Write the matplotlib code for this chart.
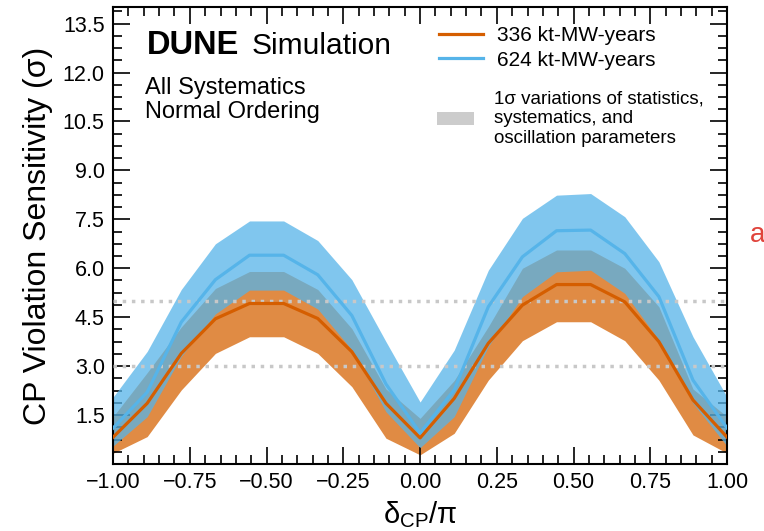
import matplotlib
matplotlib.use("Agg")
import matplotlib.pyplot as plt
import numpy as np
from matplotlib.lines import Line2D
from matplotlib.patches import Patch
from matplotlib.ticker import MultipleLocator

plt.rcParams['font.family'] = ['Liberation Sans', 'DejaVu Sans']
plt.rcParams['mathtext.fontset'] = 'custom'
plt.rcParams['mathtext.rm'] = 'Liberation Sans'
plt.rcParams['mathtext.it'] = 'Liberation Sans'

# delta_CP / pi grid (19 points)
dcp = np.linspace(-1, 1, 19)

# 336 kt-MW-years (orange)
or_mid = [0.82, 1.86, 3.39, 4.45, 4.92, 4.92, 4.46, 3.44, 1.86, 0.80,
          2.01, 3.70, 4.87, 5.50, 5.50, 4.97, 3.75, 1.96, 0.82]
or_lo = [0.33, 0.84, 2.27, 3.39, 3.90, 3.90, 3.39, 2.37, 0.79, 0.28,
         0.94, 2.57, 3.78, 4.36, 4.36, 3.78, 2.57, 0.89, 0.33]
or_hi = [1.45, 2.80, 4.20, 5.38, 5.90, 5.90, 5.35, 4.15, 2.30, 1.40,
         2.56, 4.21, 6.00, 6.56, 6.56, 6.00, 4.82, 2.30, 1.45]

# 624 kt-MW-years (blue)
bl_mid = [1.10, 2.20, 4.35, 5.65, 6.40, 6.40, 5.80, 4.55, 2.45, 0.95,
          2.27, 4.82, 6.35, 7.15, 7.17, 6.45, 5.13, 2.57, 1.10]
bl_lo = [0.55, 1.45, 3.30, 4.60, 5.33, 5.33, 4.75, 3.50, 1.60, 0.50,
         1.45, 3.60, 5.13, 5.89, 5.94, 5.23, 3.80, 1.86, 0.55]
bl_hi = [2.05, 3.45, 5.35, 6.75, 7.45, 7.45, 6.85, 5.65, 3.75, 1.90,
         3.49, 5.94, 7.53, 8.24, 8.29, 7.58, 6.20, 3.90, 2.05]

ref_levels = [3, 5]
yticks = [1.5, 3.0, 4.5, 6.0, 7.5, 9.0, 10.5, 12.0, 13.5]

c_or_line = '#d55e00'
c_or_band = '#e08b44'
c_bl = '#56b4e9'

fig = plt.figure(figsize=(7.64, 5.31), dpi=100)
ax = fig.add_axes([0.148, 0.1262, 0.8037, 0.8601])

ax.fill_between(dcp, or_lo, or_hi, color=c_or_band, lw=0, zorder=1)
ax.fill_between(dcp, bl_lo, bl_hi, color=c_bl, alpha=0.75, lw=0, zorder=2)
for lv in ref_levels:
    ax.axhline(lv, color='#c8c8c8', ls=':', lw=2.5, zorder=3)
ax.plot(dcp, or_mid, color=c_or_line, lw=2.3, zorder=4)
ax.plot(dcp, bl_mid, color=c_bl, lw=2.3, zorder=5)

ax.set_xlim(-1, 1)
ax.set_ylim(0, 14)
ax.set_yticks(yticks)
ax.set_xticks(np.arange(-1, 1.01, 0.25))
ax.xaxis.set_minor_locator(MultipleLocator(0.05))
ax.yaxis.set_minor_locator(MultipleLocator(0.375))
ax.tick_params(which='both', direction='in', top=True, right=True,
               labelsize=15.5, width=1.2)
ax.tick_params(which='major', length=12, pad=6)
ax.tick_params(which='minor', length=6.5)
for sp in ax.spines.values():
    sp.set_linewidth(1.5)

ax.set_xlabel(r'δ$_{\mathrm{CP}}$/π', fontsize=21, labelpad=4)
ax.set_ylabel('CP Violation Sensitivity (σ)', fontsize=23, labelpad=7)

ax.text(0.0554, 0.8987, 'DUNE', fontsize=23.5, fontweight='bold',
        transform=ax.transAxes, va='baseline')
ax.text(0.2248, 0.8987, 'Simulation', fontsize=21.5,
        transform=ax.transAxes, va='baseline')
ax.text(0.0521, 0.811, 'All Systematics', fontsize=17,
        transform=ax.transAxes, va='baseline')
ax.text(0.0521, 0.7565, 'Normal Ordering', fontsize=17,
        transform=ax.transAxes, va='baseline')

h1 = [Line2D([], [], color=c_or_line, lw=2.3),
      Line2D([], [], color=c_bl, lw=2.3)]
leg1 = ax.legend(h1, ['336 kt-MW-years', '624 kt-MW-years'],
                 loc='upper left', bbox_to_anchor=(0.531, 0.958),
                 frameon=False, fontsize=15, handlelength=2.1,
                 handletextpad=0.67, labelspacing=0.25,
                 borderpad=0, borderaxespad=0)
ax.add_artist(leg1)
h2 = [Patch(facecolor='#cccccc', lw=0)]
ax.legend(h2, ['1σ variations of statistics,\nsystematics, and\noscillation parameters'],
          loc='upper left', bbox_to_anchor=(0.528, 0.818),
          frameon=False, fontsize=13.5, handlelength=1.97,
          handleheight=0.75, handletextpad=1.07,
          borderpad=0, borderaxespad=0)

fig.text(0.981, 0.545, 'a', color='#e0443c', fontsize=20, va='baseline')

fig.savefig('out.png', dpi=100)
